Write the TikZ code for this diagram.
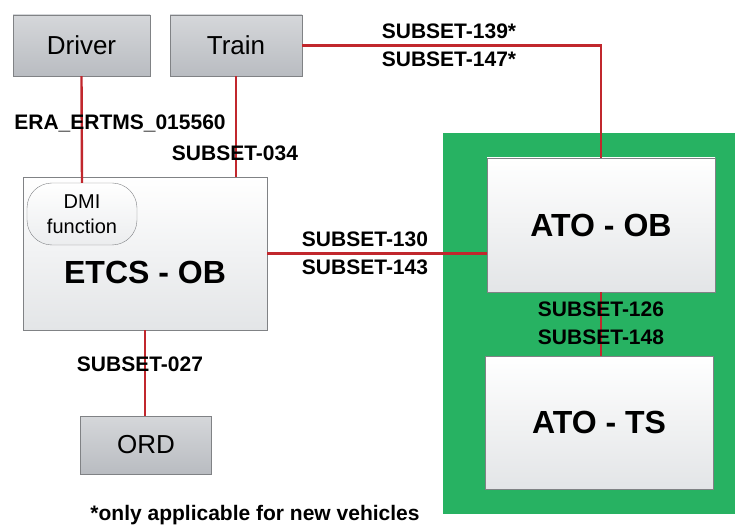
\documentclass[tikz,border=0pt]{standalone}
\usepackage{fontspec}
\setmainfont{Liberation Sans}
\usetikzlibrary{positioning}

\definecolor{linered}{HTML}{C1272D}
\definecolor{atogreen}{HTML}{27B262}
\definecolor{greytop}{HTML}{D5D7DA}
\definecolor{greybot}{HTML}{B9BCC1}
\definecolor{whitebot}{HTML}{E3E5E7}
\definecolor{edgegrey}{HTML}{808285}

\begin{document}
\begin{tikzpicture}[
        x=1pt, y=-1pt,
        actor/.style={rectangle, draw=edgegrey, thin, top color=greytop, bottom color=greybot, inner sep=0pt, font=\fontsize{26}{29}\selectfont},
        unit/.style={rectangle, draw=edgegrey, thin, top color=white, bottom color=whitebot, inner sep=0pt, font=\bfseries\fontsize{32}{36}\selectfont},
        unittext/.style={inner sep=0pt, font=\bfseries\fontsize{32}{36}\selectfont},
        pill/.style={rectangle, draw=edgegrey, thin, top color=white, bottom color=whitebot!70, rounded corners=25pt, inner sep=0pt, align=center, font=\fontsize{20}{25}\selectfont},
        iface/.style={align=center, inner sep=0pt, font=\bfseries\fontsize{21}{28}\selectfont},
        line/.style={draw=linered, line width=2.4pt}
    ]
        \useasboundingbox (0,0) rectangle (735,526);

        % ATO area
        \node[rectangle, fill=atogreen, minimum width=292pt, minimum height=381pt, inner sep=0pt] (atoarea) at (589,323.5) {};

        \node[actor, minimum width=137pt, minimum height=61pt] (driver) at (81.5,45.5) {Driver};
        \node[actor, minimum width=132pt, minimum height=61pt] (train) at (236,45.5) {Train};
        \node[unit, minimum width=244pt, minimum height=153pt] (etcs) at (145,253.5) {};
        \node[unittext] (etcstext) at (145,272) {ETCS - OB};
        \node[pill, minimum width=110pt, minimum height=62pt] (dmi) at (82,214) {DMI\\function};
        \node[actor, minimum width=131pt, minimum height=58pt] (ord) at (146,445) {ORD};
        \node[unit, minimum width=228pt, minimum height=134pt] (atoob) at (601,225) {ATO - OB};
        \node[unit, minimum width=228pt, minimum height=133pt] (atots) at (599,422.5) {ATO - TS};

        \draw[line] (driver.south) -- (dmi.north);
        \draw[line] (train.south) -- (train.south |- etcs.north);
        \draw[line] (train.east) -| (atoob.north);
        \draw[line] (etcs.east) -- (etcs.east -| atoob.west);
        \draw[line] (atoob.south) -- (atoob.south |- atots.north);
        \draw[line] (etcs.south) -- (etcs.south |- ord.north);

        \node[iface] (lbldriver) at (120,123) {ERA\_ERTMS\_015560};
        \node[iface] (lbltrain) at (235,153) {SUBSET-034};
        \node[iface] (lbltrainato) at (449,45) {SUBSET-139*\\SUBSET-147*};
        \node[iface] (lbletcsato) at (365,253) {SUBSET-130\\SUBSET-143};
        \node[iface] (lblatots) at (601,323) {SUBSET-126\\SUBSET-148};
        \node[iface] (lblord) at (140,364) {SUBSET-027};

        \node[iface, anchor=base] (footnote) at (255,520) {*only applicable for new vehicles};

    \end{tikzpicture}
\end{document}
